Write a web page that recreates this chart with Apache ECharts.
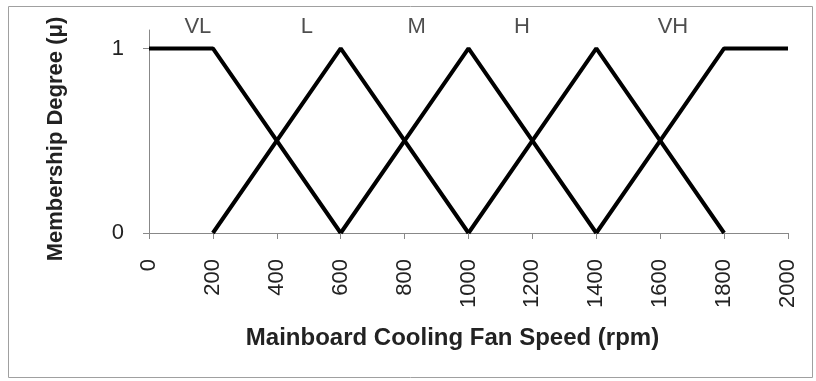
<!DOCTYPE html>
<html>
<head>
<meta charset="utf-8">
<script src="https://cdn.jsdelivr.net/npm/echarts@6/dist/echarts.min.js"></script>
<style>
  html, body { margin: 0; padding: 0; background: #fff; }
  #chart { width: 816px; height: 381px; }
</style>
</head>
<body>
<div id="chart"></div>
<script>
// membership functions (x = rpm, y = degree)
const vlPoints = [[0, 1], [200, 1], [600, 0]]
const lPoints = [[200, 0], [600, 1], [1000, 0]]
const mPoints = [[600, 0], [1000, 1], [1400, 0]]
const hPoints = [[1000, 0], [1400, 1], [1800, 0]]
const vhPoints = [[1400, 0], [1800, 1], [2000, 1]]

// set names shown above the curves
const setNames = ['VL', 'L', 'M', 'H', 'VH']
const setNameX = [153, 494, 838, 1167, 1640]
const setNameY = 1.116

const chart = echarts.init(document.getElementById('chart'))

const lineSeries = (name, data) => ({
  name,
  type: 'line',
  data,
  symbol: 'none',
  lineStyle: { color: '#000', width: 4 },
  z: 3
})

chart.setOption({
  animation: false,
  textStyle: { fontFamily: 'Liberation Sans, Arial, sans-serif' },
  grid: { left: 149, right: 28, top: 30, bottom: 148, outerBoundsMode: 'none', containLabel: false },
  graphic: [{
    type: 'rect',
    shape: { x: 8.5, y: 6.5, width: 804, height: 371 },
    style: { fill: 'none', stroke: '#a0a0a0', lineWidth: 1 }
  }],
  xAxis: {
    type: 'value',
    min: 0,
    max: 2000,
    interval: 200,
    name: 'Mainboard Cooling Fan Speed (rpm)',
    nameLocation: 'middle',
    nameGap: 93,
    nameTextStyle: { fontSize: 24, fontWeight: 'bold', color: '#222', padding: [0, 32, 0, 0] },
    axisLine: { show: true, lineStyle: { color: '#888', width: 1 } },
    axisTick: { show: true, inside: false, length: 6, lineStyle: { color: '#888' } },
    axisLabel: { rotate: 90, margin: 26, fontSize: 22, color: '#222', formatter: v => String(v) },
    splitLine: { show: false }
  },
  yAxis: {
    type: 'value',
    min: 0,
    max: 1.1,
    interval: 1,
    name: 'Membership Degree (\u03bc)',
    nameLocation: 'middle',
    nameGap: 82,
    nameTextStyle: { fontSize: 22, fontWeight: 'bold', color: '#222', padding: [0, 15, 0, 0] },
    axisLine: { show: true, lineStyle: { color: '#888', width: 1 } },
    axisTick: { show: true, length: 6, lineStyle: { color: '#888' } },
    axisLabel: { fontSize: 22, color: '#222', margin: 25, showMaxLabel: false },
    splitLine: { show: false }
  },
  series: [
    lineSeries('VL', vlPoints),
    lineSeries('L', lPoints),
    lineSeries('M', mPoints),
    lineSeries('H', hPoints),
    lineSeries('VH', vhPoints),
    {
      type: 'scatter',
      symbolSize: 0,
      clip: false,
      silent: true,
      data: setNames.map((n, i) => ({ value: [setNameX[i], setNameY], name: n })),
      label: {
        show: true,
        position: 'inside',
        formatter: '{b}',
        fontSize: 22,
        color: '#222'
      }
    }
  ]
})
</script>
</body>
</html>
